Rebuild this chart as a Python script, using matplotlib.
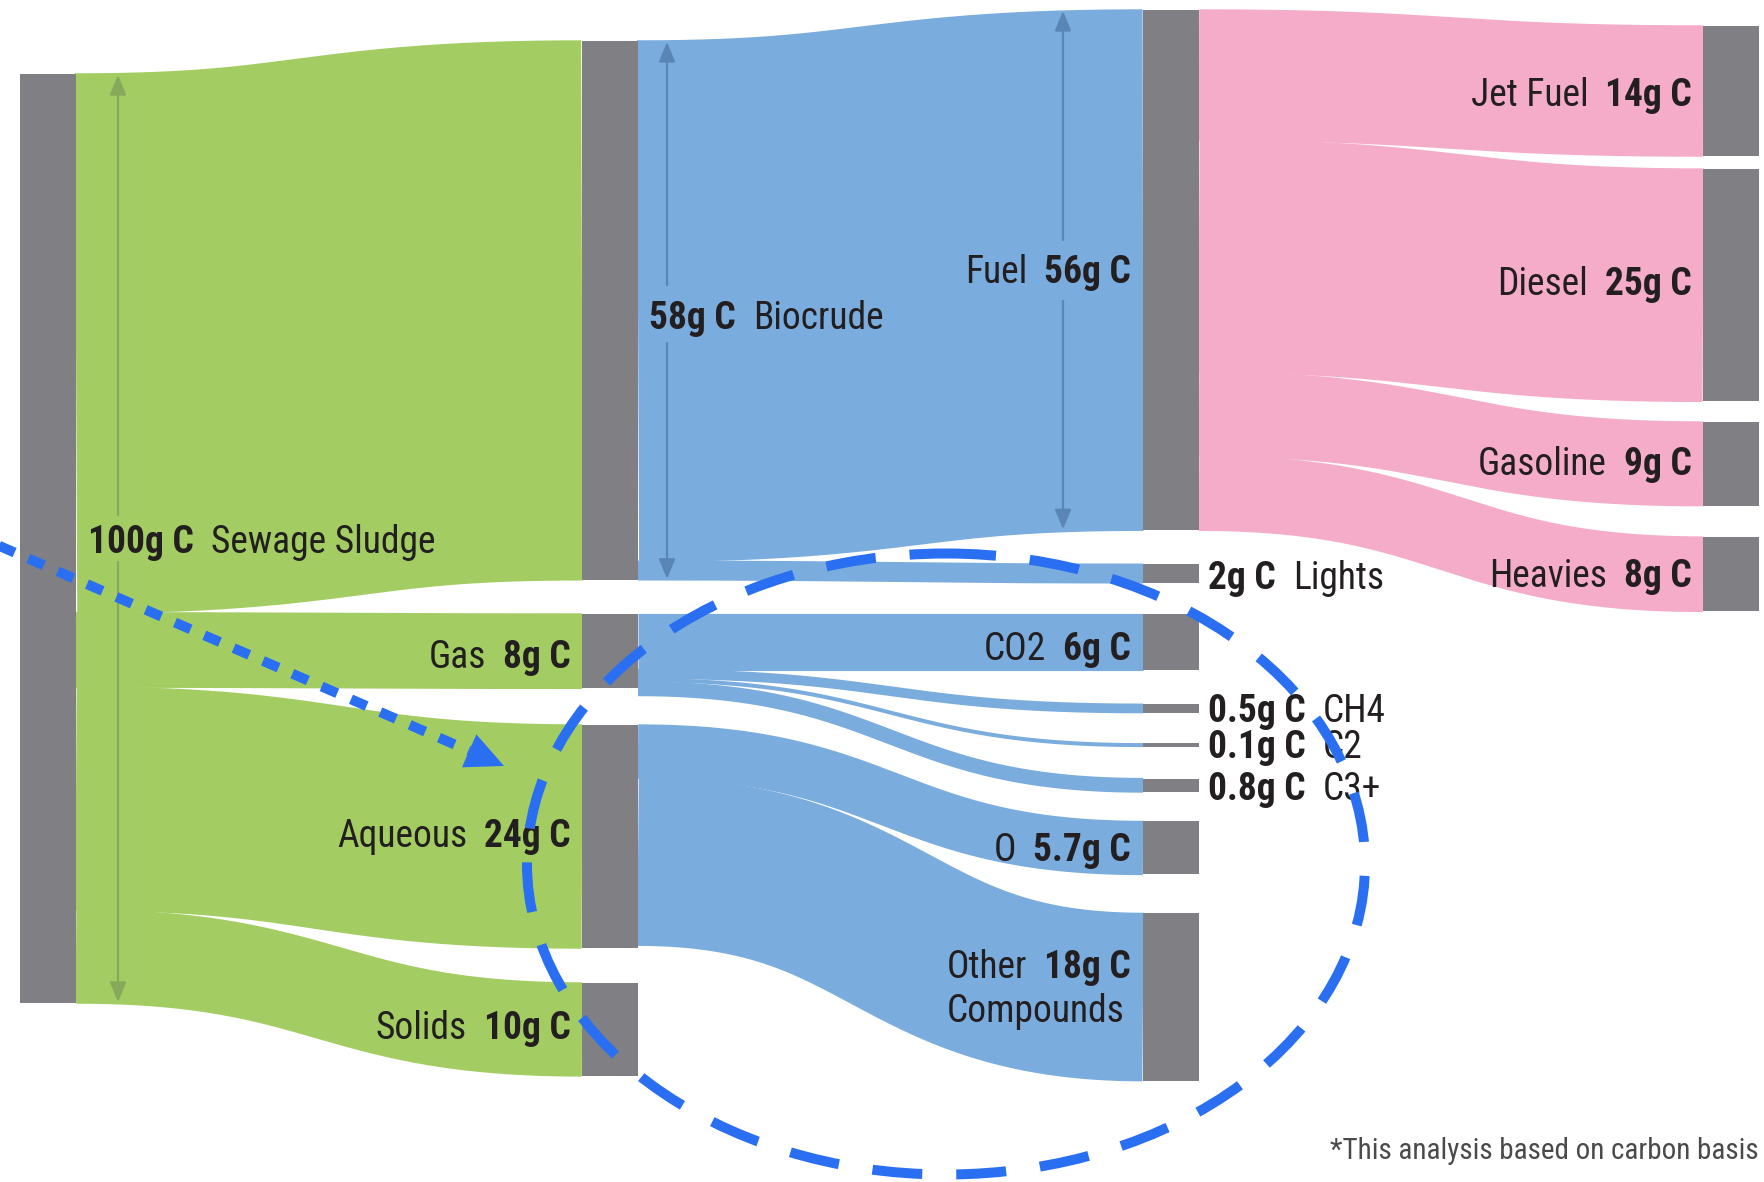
import numpy as np
import matplotlib
matplotlib.use('Agg')
import matplotlib.pyplot as plt
from matplotlib.patches import Ellipse, Rectangle, Polygon

# ---------------- data ----------------
node_names = ['Sewage Sludge', 'Biocrude', 'Gas', 'Aqueous', 'Solids',
              'Fuel', 'Lights', 'CO2', 'CH4', 'C2', 'C3+', 'O', 'Other',
              'Jet Fuel', 'Diesel', 'Gasoline', 'Heavies']
node_values = [100, 58, 8, 24, 10,
               56, 2, 6, 0.5, 0.1, 0.8, 5.7, 18,
               14, 25, 9, 8]
node_column = [0, 1, 1, 1, 1,
               2, 2, 2, 2, 2, 2, 2, 2,
               3, 3, 3, 3]
flow_source = ['Sewage Sludge'] * 4 + ['Biocrude'] * 2 + ['Gas'] * 4 + ['Aqueous'] * 2 + ['Fuel'] * 4
flow_target = ['Biocrude', 'Gas', 'Aqueous', 'Solids',
               'Fuel', 'Lights',
               'CO2', 'CH4', 'C2', 'C3+',
               'O', 'Other',
               'Jet Fuel', 'Diesel', 'Gasoline', 'Heavies']
flow_values = [58, 8, 24, 10, 56, 2, 6, 0.5, 0.1, 0.8, 5.7, 18, 14, 25, 9, 8]
footnote = '*This analysis based on carbon basis'

# ---------------- layout / style ----------------
W, H = 1765, 1182
SCALE = 9.29          # px per g C
SMALL_BOOST = 1.8     # visual boost for sub-gram streams
MIN_W = 4
SEAM = 1.4            # px of overlap so adjacent streams show no hairline seams
BAR_W = 56
col_x = [20, 582, 1143, 1703]
node_gap = {'Sewage Sludge': 74, 'Biocrude': 41, 'Gas': 34.2, 'Aqueous': 36.7, 'Solids': 35,
            'Fuel': 10, 'Lights': 34, 'CO2': 31.2, 'CH4': 34.5, 'C2': 30.5, 'C3+': 31.5,
            'O': 29.5, 'Other': 39,
            'Jet Fuel': 26, 'Diesel': 13, 'Gasoline': 20.75, 'Heavies': 31.4}
col_colors = ['#a3cd63', '#7aacdd', '#f4acc9']
BAR_COLOR = '#808084'
TXT = '#231f20'
FS = 27
FONT = ['Roboto Condensed', 'Archivo Narrow', 'PT Sans Narrow', 'Liberation Sans Narrow', 'DejaVu Sans']
HILITE = '#2a6ff2'

# label placement: (x, y_center, align)
label_pos = {'Sewage Sludge': (88, 540, 'left'), 'Biocrude': (649, 316, 'left'),
             'Gas': (571, 655, 'right'), 'Aqueous': (571, 834, 'right'), 'Solids': (571, 1026, 'right'),
             'Fuel': (1131, 270, 'right'), 'Lights': (1208, 576, 'left'), 'CO2': (1131, 647, 'right'),
             'CH4': (1208, 709, 'left'), 'C2': (1208, 745, 'left'), 'C3+': (1208, 787, 'left'),
             'O': (1131, 848, 'right'), 'Other': (1131, 965, 'right'),
             'Jet Fuel': (1692, 93, 'right'), 'Diesel': (1692, 282, 'right'),
             'Gasoline': (1692, 462, 'right'), 'Heavies': (1692, 574, 'right')}
aligned_group = ['CH4', 'C2', 'C3+']   # names share one column


def disp(v):
    """displayed thickness of a stream in px"""
    return v * SCALE if v >= 1 else max(v * SCALE * SMALL_BOOST, MIN_W)


fig = plt.figure(figsize=(W / 100, H / 100), dpi=100)
ax = fig.add_axes([0, 0, 1, 1])
ax.set_xlim(0, W)
ax.set_ylim(H, 0)
ax.axis('off')

# ---- node geometry from values ----
node_top, node_h = {}, {}
cursor = {}
for name, val, col in zip(node_names, node_values, node_column):
    c = cursor.get(col, 0)
    top = c + node_gap[name]
    h = disp(val)
    node_top[name], node_h[name] = top, h
    cursor[col] = top + h
col_of = dict(zip(node_names, node_column))

# ---- flows: stroked cubic Bezier centre-lines (d3-sankey style) ----
out_cursor = {n: node_top[n] for n in node_names}
in_cursor = {n: node_top[n] for n in node_names}
t = np.linspace(0, 1, 500)
for src, tgt, v in zip(flow_source, flow_target, flow_values):
    w = disp(v)
    x0 = col_x[col_of[src]] + BAR_W
    x1 = col_x[col_of[tgt]]
    y0 = out_cursor[src] + w / 2; out_cursor[src] += w
    y1 = in_cursor[tgt] + w / 2; in_cursor[tgt] += w
    xm = (x0 + x1) / 2
    bx = (1 - t) ** 3 * x0 + 3 * (1 - t) ** 2 * t * xm + 3 * (1 - t) * t ** 2 * xm + t ** 3 * x1
    by = (1 - t) ** 3 * y0 + 3 * (1 - t) ** 2 * t * y0 + 3 * (1 - t) * t ** 2 * y1 + t ** 3 * y1
    lw_px = w + (SEAM if w > MIN_W else 0)
    ax.plot(bx, by, color=col_colors[col_of[src]], lw=lw_px * 72 / 100,
            solid_capstyle='butt', solid_joinstyle='round', zorder=1)

# ---- bars ----
for name in node_names:
    ax.add_patch(Rectangle((col_x[col_of[name]], node_top[name]), BAR_W, node_h[name],
                           facecolor=BAR_COLOR, edgecolor='none', zorder=2))

# ---- labels ----
renderer = fig.canvas.get_renderer()
cap = 0.71 * FS * 100 / 72
GAP = 17


def width(txt):
    return txt.get_window_extent(renderer=renderer).width


val_of = dict(zip(node_names, node_values))
value_texts = {}
for name, (x, y, align) in label_pos.items():
    yb = y + cap / 2
    vtxt = f'{val_of[name]:g}g C'
    value_texts[name] = ax.text(x, yb, vtxt, fontsize=FS, fontweight='bold', family=FONT, color=TXT,
                                ha=align, va='baseline', zorder=5)
group_x = max(label_pos[n][0] + width(value_texts[n]) for n in aligned_group) + GAP
for name, (x, y, align) in label_pos.items():
    yb = y + cap / 2
    wv = width(value_texts[name])
    if align == 'left':
        nx = group_x if name in aligned_group else x + wv + GAP
        ax.text(nx, yb, name, fontsize=FS, family=FONT, color=TXT, ha='left', va='baseline', zorder=5)
    else:
        tn = ax.text(x - wv - GAP, yb, name, fontsize=FS, family=FONT, color=TXT,
                     ha='right', va='baseline', zorder=5)
        if name == 'Other':
            x_left = x - wv - GAP - width(tn)
            ax.text(x_left, yb + 44, 'Compounds', fontsize=FS, family=FONT, color=TXT,
                    ha='left', va='baseline', zorder=5)

ax.text(1759, 1159, footnote, fontsize=21, family=FONT, color='#4a4a4a',
        ha='right', va='baseline', zorder=5)

# ---- dimension arrows (broken around labels) ----
dim_arrows = [('Sewage Sludge', 118, 515, 562, '#86a95c'),
              ('Biocrude', 667, 285, 343, '#5a86b6'),
              ('Fuel', 1063, 240, 301, '#5a86b6')]
for name, x, g0, g1, c in dim_arrows:
    ytop, ybot = node_top[name] + 1, node_top[name] + node_h[name] - 1
    props = dict(arrowstyle='-|>,head_length=0.6,head_width=0.25', color=c, lw=1.6,
                 shrinkA=0, shrinkB=0, mutation_scale=20)
    ax.annotate('', xy=(x, ytop), xytext=(x, g0), arrowprops=props, zorder=4)
    ax.annotate('', xy=(x, ybot), xytext=(x, g1), arrowprops=props, zorder=4)

# ---- highlight ellipse and dotted pointer ----
ax.add_patch(Ellipse((946, 864), 838, 621, fill=False, edgecolor=HILITE, lw=7.2,
                     linestyle=(0, (5, 3.4)), zorder=6, capstyle='butt'))
p0 = np.array([-5.0, 544.0])
tip = np.array([504.0, 766.0])
d = (tip - p0) / np.linalg.norm(tip - p0)
nrm = np.array([-d[1], d[0]])
base = tip - 38 * d
ax.plot([p0[0], base[0]], [p0[1], base[1]], color=HILITE, lw=7.2,
        linestyle=(0, (1.7, 1.5)), dash_capstyle='butt', zorder=6)
ax.add_patch(Polygon([tip, base + 18 * nrm, base - 18 * nrm], closed=True,
                     facecolor=HILITE, edgecolor='none', zorder=6))

fig.savefig('out.png', dpi=100)
